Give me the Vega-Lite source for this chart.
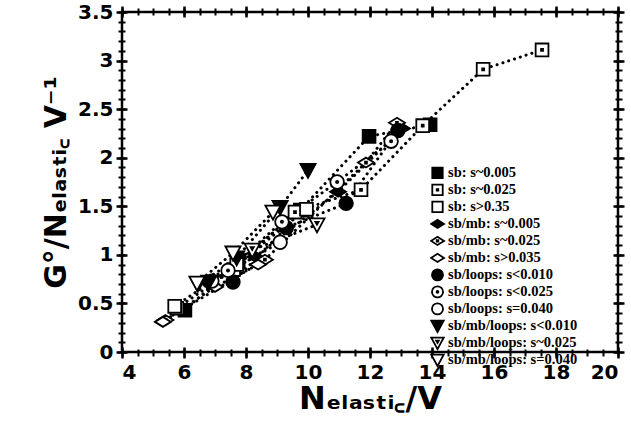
{
  "$schema": "https://vega.github.io/schema/vega-lite/v6.json",
  "width": 496,
  "height": 340,
  "autosize": {"type": "none"},
  "padding": {"left": 122, "top": 12, "right": 13, "bottom": 82},
  "background": "white",
  "config": {
    "view": {"stroke": "black", "strokeWidth": 2.5},
    "axis": {
      "domain": false, "grid": false, "ticks": true, "tickColor": "black", "tickOpacity": 1,
      "labelFont": "DejaVu Sans", "labelFontWeight": "bold", "labelFontSize": 20, "labelColor": "black",
      "titleFont": "DejaVu Sans", "titleFontWeight": "bold", "titleFontSize": 30, "titleColor": "black"
    },
    "legend": {
      "labelFont": "Liberation Serif", "labelFontWeight": "bold", "labelFontSize": 14.5, "labelColor": "black",
      "symbolStrokeColor": "black", "symbolStrokeWidth": 1.8, "symbolOpacity": 1, "symbolSize": 170,
      "rowPadding": 0, "clipHeight": 15.8, "labelOffset": 3
    }
  },
  "data": {"values": [
    {"s": "sb: s~0.005", "x": 6.03, "y": 0.43},
    {"s": "sb: s~0.005", "x": 7.75, "y": 0.93},
    {"s": "sb: s~0.005", "x": 9.75, "y": 1.46},
    {"s": "sb: s~0.005", "x": 11.97, "y": 2.22},
    {"s": "sb: s~0.005", "x": 13.94, "y": 2.34},
    {"s": "sb: s~0.025", "x": 5.77, "y": 0.45},
    {"s": "sb: s~0.025", "x": 7.6, "y": 0.85},
    {"s": "sb: s~0.025", "x": 9.58, "y": 1.44},
    {"s": "sb: s~0.025", "x": 11.71, "y": 1.67},
    {"s": "sb: s~0.025", "x": 13.7, "y": 2.33},
    {"s": "sb: s~0.025", "x": 15.65, "y": 2.91},
    {"s": "sb: s~0.025", "x": 17.55, "y": 3.11},
    {"s": "sb: s>0.35", "x": 5.7, "y": 0.47},
    {"s": "sb: s>0.35", "x": 7.7, "y": 0.9},
    {"s": "sb: s>0.35", "x": 9.95, "y": 1.47},
    {"s": "sb/mb: s~0.005", "x": 6.74, "y": 0.72},
    {"s": "sb/mb: s~0.005", "x": 8.3, "y": 0.98},
    {"s": "sb/mb: s~0.005", "x": 10.97, "y": 1.65},
    {"s": "sb/mb: s~0.005", "x": 13.03, "y": 2.3},
    {"s": "sb/mb: s~0.025", "x": 5.4, "y": 0.33},
    {"s": "sb/mb: s~0.025", "x": 8.61, "y": 0.95},
    {"s": "sb/mb: s~0.025", "x": 11.87, "y": 1.95},
    {"s": "sb/mb: s~0.025", "x": 12.87, "y": 2.36},
    {"s": "sb/mb: s>0.035", "x": 5.32, "y": 0.31},
    {"s": "sb/mb: s>0.035", "x": 7.0, "y": 0.67},
    {"s": "sb/mb: s>0.035", "x": 8.39, "y": 0.9},
    {"s": "sb/loops: s<0.010", "x": 7.58, "y": 0.72},
    {"s": "sb/loops: s<0.010", "x": 9.3, "y": 1.28},
    {"s": "sb/loops: s<0.010", "x": 11.23, "y": 1.53},
    {"s": "sb/loops: s<0.010", "x": 12.9, "y": 2.28},
    {"s": "sb/loops: s<0.025", "x": 7.42, "y": 0.84},
    {"s": "sb/loops: s<0.025", "x": 9.16, "y": 1.34},
    {"s": "sb/loops: s<0.025", "x": 10.94, "y": 1.75},
    {"s": "sb/loops: s<0.025", "x": 12.68, "y": 2.17},
    {"s": "sb/loops: s=0.040", "x": 6.9, "y": 0.73},
    {"s": "sb/loops: s=0.040", "x": 9.1, "y": 1.13},
    {"s": "sb/mb/loops: s<0.010", "x": 6.8, "y": 0.72},
    {"s": "sb/mb/loops: s<0.010", "x": 7.7, "y": 0.97},
    {"s": "sb/mb/loops: s<0.010", "x": 9.1, "y": 1.49},
    {"s": "sb/mb/loops: s<0.010", "x": 10.0, "y": 1.87},
    {"s": "sb/mb/loops: s~0.025", "x": 6.45, "y": 0.7},
    {"s": "sb/mb/loops: s~0.025", "x": 8.2, "y": 1.05},
    {"s": "sb/mb/loops: s~0.025", "x": 10.29, "y": 1.31},
    {"s": "sb/mb/loops: s=0.040", "x": 6.42, "y": 0.71},
    {"s": "sb/mb/loops: s=0.040", "x": 7.58, "y": 1.02},
    {"s": "sb/mb/loops: s=0.040", "x": 8.87, "y": 1.44}
  ]},
  "resolve": {"axis": {"x": "independent", "y": "independent"}},
  "layer": [
    {
      "mark": {"type": "line", "stroke": "black", "strokeWidth": 3, "strokeDash": [0.1, 6], "strokeCap": "round"},
      "encoding": {
        "x": {"field": "x", "type": "quantitative", "scale": {"domain": [4, 20], "nice": false, "zero": false},
          "axis": {"orient": "bottom", "values": [4, 6, 8, 10, 12, 14, 16, 18, 20], "tickSize": 11, "offset": -5, "tickWidth": 2.5, "labelPadding": 4, "title": "Nₑₗₐₛₜᵢ꜀/V", "titleFontSize": 32, "titlePadding": 1}},
        "y": {"field": "y", "type": "quantitative", "scale": {"domain": [0, 3.5], "nice": false, "zero": false},
          "axis": {"orient": "left", "values": [0, 0.5, 1, 1.5, 2, 2.5, 3, 3.5], "format": "~g", "tickSize": 11, "offset": -5, "tickWidth": 2.5, "labelPadding": 3, "title": "G°/Nₑₗₐₛₜᵢ꜀ V⁻¹", "titlePadding": 6}},
        "detail": {"field": "s"}
      }
    },
    {
      "mark": {"type": "point", "stroke": "black", "strokeWidth": 1.8, "opacity": 1, "size": 256},
      "encoding": {
        "x": {"field": "x", "type": "quantitative",
          "axis": {"orient": "bottom", "values": [4,4.5,5,5.5,6,6.5,7,7.5,8,8.5,9,9.5,10,10.5,11,11.5,12,12.5,13,13.5,14,14.5,15,15.5,16,16.5,17,17.5,18,18.5,19,19.5,20], "tickSize": 7, "offset": -3, "tickWidth": 2, "labels": false, "title": null}},
        "y": {"field": "y", "type": "quantitative",
          "axis": {"orient": "left", "values": [0,0.1,0.2,0.3,0.4,0.5,0.6,0.7,0.8,0.9,1,1.1,1.2,1.3,1.4,1.5,1.6,1.7,1.8,1.9,2,2.1,2.2,2.3,2.4,2.5,2.6,2.7,2.8,2.9,3,3.1,3.2,3.3,3.4,3.5], "tickSize": 7, "offset": -3, "tickWidth": 2, "labels": false, "title": null}},
        "shape": {"field": "s", "type": "nominal",
          "scale": {
            "domain": ["sb: s~0.005", "sb: s~0.025", "sb: s>0.35", "sb/mb: s~0.005", "sb/mb: s~0.025", "sb/mb: s>0.035", "sb/loops: s<0.010", "sb/loops: s<0.025", "sb/loops: s=0.040", "sb/mb/loops: s<0.010", "sb/mb/loops: s~0.025", "sb/mb/loops: s=0.040"],
            "range": [
              "M-0.8,-0.8H0.8V0.8H-0.8Z",
              "M-0.8,-0.8H0.8V0.8H-0.8Z M-0.12,-0.12H0.12V0.12H-0.12Z",
              "M-0.8,-0.8H0.8V0.8H-0.8Z",
              "M-1,0L0,-0.62L1,0L0,0.62Z",
              "M-1,0L0,-0.62L1,0L0,0.62Z M-0.12,-0.12H0.12V0.12H-0.12Z",
              "M-1,0L0,-0.62L1,0L0,0.62Z",
              "M-0.85,0A0.85,0.85,0,1,1,0.85,0A0.85,0.85,0,1,1,-0.85,0Z",
              "M-0.85,0A0.85,0.85,0,1,1,0.85,0A0.85,0.85,0,1,1,-0.85,0Z M-0.14,0A0.14,0.14,0,1,1,0.14,0A0.14,0.14,0,1,1,-0.14,0Z",
              "M-0.85,0A0.85,0.85,0,1,1,0.85,0A0.85,0.85,0,1,1,-0.85,0Z",
              "M-0.95,-0.8L0.95,-0.8L0,0.95Z",
              "M-0.95,-0.8L0.95,-0.8L0,0.95Z M-0.2,-0.35L0.2,-0.35L0,0Z",
              "M-0.95,-0.8L0.95,-0.8L0,0.95Z"
            ]
          },
          "legend": {"title": null, "orient": "none", "legendX": 308, "legendY": 153, "rowPadding": 0, "clipHeight": 15.8,
            "encode": {"symbols": {"update": {"stroke": {"value": "black"}, "strokeWidth": {"value": 1.8}, "opacity": {"value": 1}}}}}
        },
        "fill": {"field": "s", "type": "nominal",
          "scale": {
            "domain": ["sb: s~0.005", "sb: s~0.025", "sb: s>0.35", "sb/mb: s~0.005", "sb/mb: s~0.025", "sb/mb: s>0.035", "sb/loops: s<0.010", "sb/loops: s<0.025", "sb/loops: s=0.040", "sb/mb/loops: s<0.010", "sb/mb/loops: s~0.025", "sb/mb/loops: s=0.040"],
            "range": ["black", "white", "white", "black", "white", "white", "black", "white", "white", "black", "white", "white"]
          },
          "legend": {"title": null, "orient": "none", "legendX": 308, "legendY": 153, "rowPadding": 0, "clipHeight": 15.8,
            "encode": {"symbols": {"update": {"stroke": {"value": "black"}, "strokeWidth": {"value": 1.8}, "opacity": {"value": 1}}}}}
        }
      }
    },
    {
      "mark": {"type": "point", "opacity": 0},
      "encoding": {
        "x": {"field": "x", "type": "quantitative",
          "axis": {"orient": "top", "values": [4, 6, 8, 10, 12, 14, 16, 18, 20], "tickSize": 11, "offset": -5, "tickWidth": 2.5, "labels": false, "title": null}},
        "y": {"field": "y", "type": "quantitative",
          "axis": {"orient": "right", "values": [0, 0.5, 1, 1.5, 2, 2.5, 3, 3.5], "tickSize": 11, "offset": -5, "tickWidth": 2.5, "labels": false, "title": null}}
      }
    },
    {
      "mark": {"type": "point", "opacity": 0},
      "encoding": {
        "x": {"field": "x", "type": "quantitative",
          "axis": {"orient": "top", "values": [4,4.5,5,5.5,6,6.5,7,7.5,8,8.5,9,9.5,10,10.5,11,11.5,12,12.5,13,13.5,14,14.5,15,15.5,16,16.5,17,17.5,18,18.5,19,19.5,20], "tickSize": 7, "offset": -3, "tickWidth": 2, "labels": false, "title": null}},
        "y": {"field": "y", "type": "quantitative",
          "axis": {"orient": "right", "values": [0,0.1,0.2,0.3,0.4,0.5,0.6,0.7,0.8,0.9,1,1.1,1.2,1.3,1.4,1.5,1.6,1.7,1.8,1.9,2,2.1,2.2,2.3,2.4,2.5,2.6,2.7,2.8,2.9,3,3.1,3.2,3.3,3.4,3.5], "tickSize": 7, "offset": -3, "tickWidth": 2, "labels": false, "title": null}}
      }
    }
  ]
}
